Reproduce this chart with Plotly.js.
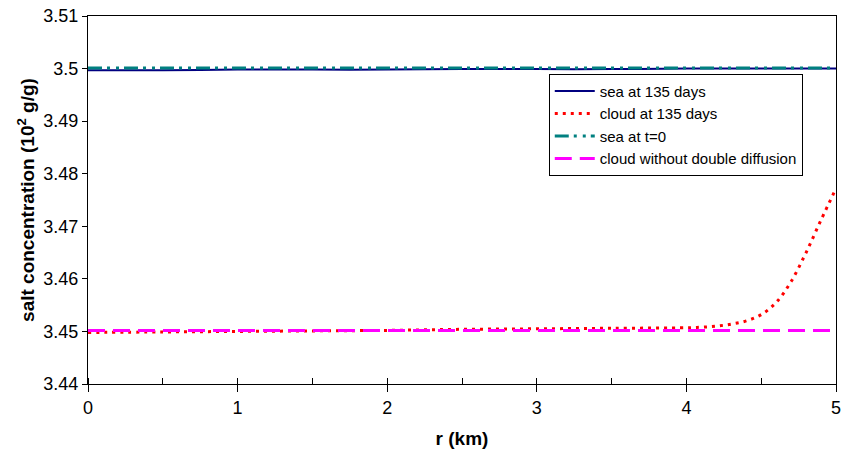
<!DOCTYPE html>
<html>
<head>
<meta charset="utf-8">
<script src="https://cdn.plot.ly/plotly-3.0.1.min.js"></script>
<style>html,body{margin:0;padding:0;background:#fff;}#chart{width:843px;height:461px;}</style>
</head>
<body>
<div id="chart"></div>
<script>
var r = [0, 0.5, 1, 1.5, 2, 2.5, 3, 3.5, 4, 4.1, 4.2, 4.3, 4.4, 4.5, 4.6, 4.7, 4.8, 4.9, 5];
var seaAt135 = [3.4997, 3.4997, 3.4998, 3.4998, 3.4998, 3.4999, 3.4999, 3.4999, 3.5, 3.5, 3.5, 3.5, 3.5, 3.5, 3.5, 3.5, 3.5, 3.5, 3.5];
var cloudAt135 = [3.4498, 3.4499, 3.4500, 3.4501, 3.4502, 3.4504, 3.4505, 3.4506, 3.4507, 3.4508, 3.4510, 3.4514, 3.4520, 3.4532, 3.4555, 3.4595, 3.4650, 3.4712, 3.4772];
var seaAt0 = [3.5001, 3.5001, 3.5001, 3.5001, 3.5001, 3.5001, 3.5001, 3.5001, 3.5001, 3.5001, 3.5001, 3.5001, 3.5001, 3.5001, 3.5001, 3.5001, 3.5001, 3.5001, 3.5001];
var cloudNoDD = [3.4502, 3.4502, 3.4502, 3.4502, 3.4502, 3.4502, 3.4502, 3.4502, 3.4502, 3.4502, 3.4502, 3.4502, 3.4502, 3.4502, 3.4502, 3.4502, 3.4502, 3.4502, 3.4502];
var seriesNames = ["sea at 135 days", "cloud at 135 days", "sea at t=0", "cloud without double diffusion"];

var traces = [
  {x: r, y: seaAt135, name: seriesNames[0], mode: "lines", line: {color: "#000080", width: 2, shape: "spline"}},
  {x: r, y: cloudAt135, name: seriesNames[1], mode: "lines", line: {color: "#ff0000", width: 3, dash: "3px,5px", shape: "spline"}},
  {x: r, y: seaAt0, name: seriesNames[2], mode: "lines", line: {color: "#008080", width: 3, dash: "14px,5px,3px,6px,3px,5px"}},
  {x: r, y: cloudNoDD, name: seriesNames[3], mode: "lines", line: {color: "#ff00ff", width: 3, dash: "17px,8px"}}
];

var layout = {
  width: 843, height: 461,
  margin: {l: 88, r: 7, t: 16, b: 77},
  paper_bgcolor: "#fff", plot_bgcolor: "#fff",
  font: {family: "Liberation Sans, Arial, sans-serif", color: "#000", size: 18},
  showlegend: true,
  legend: {
    x: 0.616, y: 0.843, xanchor: "left", yanchor: "top",
    bordercolor: "#000", borderwidth: 1, bgcolor: "#fff",
    font: {size: 15}, tracegroupgap: 0, itemwidth: 40
  },
  xaxis: {
    range: [0, 5], dtick: 1, tick0: 0,
    showgrid: false, zeroline: false,
    showline: true, linecolor: "#000", linewidth: 1, mirror: true,
    ticks: "outside", ticklen: 7, tickcolor: "#000",
    minor: {dtick: 0.5, ticks: "inside", ticklen: 6, tickcolor: "#000"},
    tickfont: {size: 18},
    title: {text: "<b>r (km)</b>", font: {size: 19}, standoff: 15}
  },
  yaxis: {
    range: [3.44, 3.51], dtick: 0.01, tick0: 3.44,
    showgrid: false, zeroline: false,
    showline: true, linecolor: "#000", linewidth: 1, mirror: true,
    ticks: "outside", ticklen: 5, tickcolor: "#000",
    tickfont: {size: 18},
    title: {text: "<b>salt concentration (10<sup>2</sup> g/g)</b>", font: {size: 19}, standoff: 3}
  }
};

Plotly.newPlot("chart", traces, layout, {displayModeBar: false, staticPlot: true});
</script>
</body>
</html>
